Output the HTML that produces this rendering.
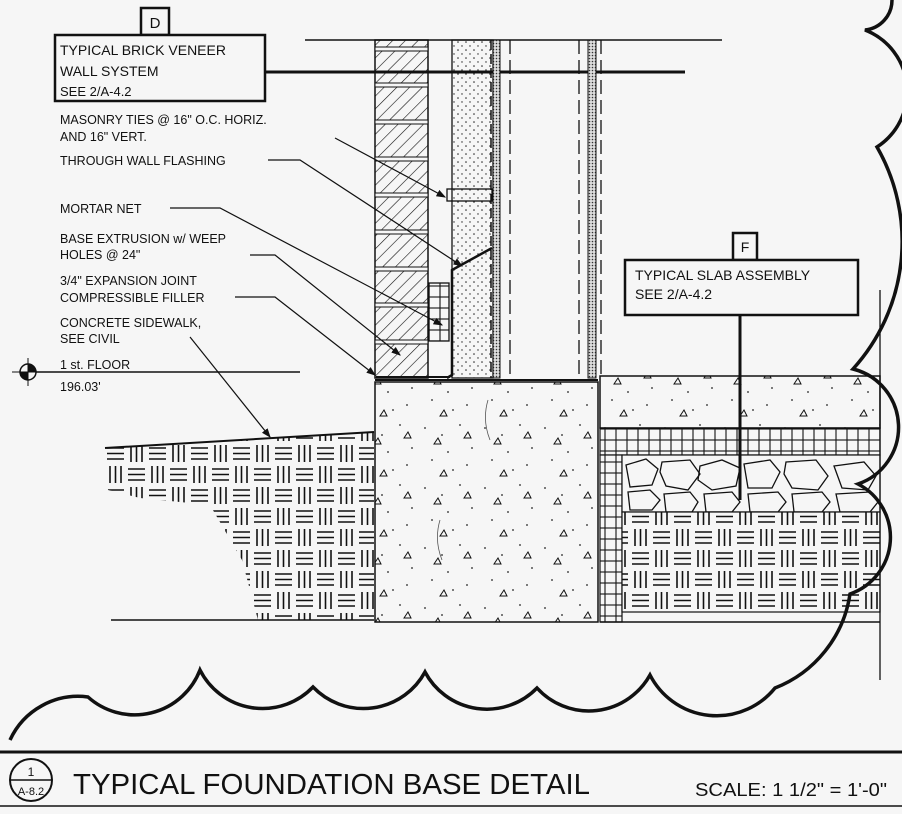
<!DOCTYPE html>
<html><head><meta charset="utf-8"><style>
html,body{margin:0;padding:0;background:#f6f6f6;}
svg{display:block;}
text{font-family:"Liberation Sans",Arial,sans-serif;fill:#111;}
</style></head><body>
<svg width="902" height="814" viewBox="0 0 902 814" xmlns="http://www.w3.org/2000/svg">
<defs>
<pattern id="hatch" width="9" height="9" patternUnits="userSpaceOnUse" patternTransform="rotate(45)">
<line x1="0" y1="0" x2="0" y2="9" stroke="#111" stroke-width="1.2"/></pattern>
<pattern id="dots" width="8" height="8" patternUnits="userSpaceOnUse">
<circle cx="2" cy="2" r="0.8" fill="#222"/><circle cx="6" cy="6" r="0.7" fill="#222"/></pattern>
<pattern id="fine" width="3" height="3" patternUnits="userSpaceOnUse">
<rect width="3" height="3" fill="#ddd"/><circle cx="1.5" cy="1.5" r="0.8" fill="#333"/></pattern>
<pattern id="grid" width="11" height="11" patternUnits="userSpaceOnUse">
<rect width="11" height="11" fill="#f6f6f6" stroke="#111" stroke-width="1.1"/></pattern>
<pattern id="conc" width="60" height="60" patternUnits="userSpaceOnUse">
<circle cx="5" cy="8" r="0.9" fill="#222"/><circle cx="22" cy="15" r="0.9" fill="#222"/><circle cx="40" cy="5" r="0.9" fill="#222"/>
<circle cx="52" cy="28" r="0.9" fill="#222"/><circle cx="12" cy="40" r="0.9" fill="#222"/><circle cx="33" cy="50" r="0.9" fill="#222"/>
<circle cx="47" cy="45" r="0.9" fill="#222"/><circle cx="28" cy="32" r="0.9" fill="#222"/>
<path d="M14 24 l4 -6 l3 6 z M44 18 l4 -6 l3 6 z M20 56 l4 -6 l3 6 z" fill="none" stroke="#111" stroke-width="1"/></pattern>
<pattern id="earth" width="42" height="42" patternUnits="userSpaceOnUse" x="0" y="2">
<rect width="42" height="42" fill="#f6f6f6"/>
<g stroke="#111" stroke-width="1.6">
<line x1="2" y1="5" x2="19" y2="5"/><line x1="2" y1="10.5" x2="19" y2="10.5"/><line x1="2" y1="16" x2="19" y2="16"/>
<line x1="26" y1="2" x2="26" y2="19"/><line x1="31.5" y1="2" x2="31.5" y2="19"/><line x1="37" y1="2" x2="37" y2="19"/>
<line x1="5" y1="23" x2="5" y2="40"/><line x1="10.5" y1="23" x2="10.5" y2="40"/><line x1="16" y1="23" x2="16" y2="40"/>
<line x1="23" y1="26" x2="40" y2="26"/><line x1="23" y1="31.5" x2="40" y2="31.5"/><line x1="23" y1="37" x2="40" y2="37"/>
</g></pattern>
<marker id="ar" markerWidth="8" markerHeight="6" refX="7" refY="3" orient="auto"><path d="M0 0 L8 3 L0 6 z" fill="#111"/></marker>
</defs>

<line x1="305" y1="40" x2="722" y2="40" stroke="#111" stroke-width="1.5"/>
<line x1="265" y1="72" x2="685" y2="72" stroke="#111" stroke-width="3"/>

<rect x="375" y="40" width="53" height="338" fill="url(#hatch)" stroke="#111" stroke-width="1.5"/>
<g stroke="#111" stroke-width="1" fill="#f6f6f6">
<rect x="375" y="47" width="53" height="4"/><rect x="375" y="83" width="53" height="4"/><rect x="375" y="120" width="53" height="4"/>
<rect x="375" y="157" width="53" height="4"/><rect x="375" y="193" width="53" height="4"/><rect x="375" y="230" width="53" height="4"/>
<rect x="375" y="267" width="53" height="4"/><rect x="375" y="303" width="53" height="4"/><rect x="375" y="340" width="53" height="4"/>
</g>
<rect x="429" y="283" width="20" height="58" fill="url(#grid)" stroke="#111" stroke-width="1.3"/>
<path d="M452 40 L493 40 L493 378 L452 378 L452 262 Z" fill="url(#dots)" stroke="#111" stroke-width="1.3"/>
<path d="M447 378 L452 375 L452 270 L492 248" fill="none" stroke="#111" stroke-width="2.5"/>
<path d="M376 377 L450 377" stroke="#111" stroke-width="2"/>
<rect x="447" y="189" width="45" height="12" fill="none" stroke="#111" stroke-width="1.3"/>
<rect x="493" y="40" width="7" height="338" fill="url(#fine)" stroke="#111"/>
<line x1="491" y1="40" x2="491" y2="378" stroke="#111" stroke-width="1.5" stroke-dasharray="10 4"/>
<line x1="510" y1="40" x2="510" y2="378" stroke="#111" stroke-width="1.3" stroke-dasharray="14 6"/>
<line x1="579" y1="40" x2="579" y2="378" stroke="#111" stroke-width="1.3" stroke-dasharray="14 6"/>
<rect x="588" y="40" width="8" height="338" fill="url(#fine)" stroke="#111"/>
<line x1="601" y1="40" x2="601" y2="378" stroke="#111" stroke-width="1.3" stroke-dasharray="14 6"/>
<line x1="375" y1="380" x2="598" y2="380" stroke="#111" stroke-width="2"/>

<rect x="375" y="382" width="223" height="240" fill="url(#conc)" stroke="#111" stroke-width="1.5"/>
<path d="M488 400 q-6 20 2 40 M440 520 q-6 20 2 40" fill="none" stroke="#555" stroke-width="0.8"/>

<rect x="600" y="376" width="280" height="52" fill="url(#conc)" stroke="#111" stroke-width="1.5"/>
<rect x="600" y="428" width="280" height="27" fill="url(#grid)" stroke="#111" stroke-width="1.2"/>
<rect x="600" y="455" width="22" height="167" fill="url(#grid)" stroke="#111" stroke-width="1.2"/>
<rect x="622" y="455" width="258" height="57" fill="#f6f6f6" stroke="#111" stroke-width="1.2"/>
<g fill="none" stroke="#111" stroke-width="1.3">
<path d="M626 465 l20 -6 l12 10 l-6 16 l-22 2 z"/><path d="M662 462 l28 -2 l10 14 l-12 16 l-22 -4 l-6 -14 z"/>
<path d="M700 466 l22 -6 l18 8 l-4 18 l-24 4 l-14 -10 z"/><path d="M744 464 l26 -4 l10 12 l-8 16 l-24 0 z"/>
<path d="M786 462 l30 -2 l12 16 l-10 14 l-26 -2 l-8 -14 z"/><path d="M834 466 l30 -4 l12 14 l-8 14 l-26 -2 z"/>
<path d="M628 492 l22 -2 l10 10 l-8 10 l-22 0 z"/><path d="M664 494 l26 -2 l8 10 l-6 10 l-26 0 z"/>
<path d="M704 494 l28 -2 l8 10 l-8 10 l-26 0 z"/><path d="M748 494 l30 -2 l8 10 l-8 10 l-28 0 z"/>
<path d="M792 494 l30 -2 l8 10 l-8 10 l-28 0 z"/><path d="M836 494 l34 -2 l8 10 l-8 10 l-30 0 z"/>
</g>
<rect x="622" y="512" width="258" height="100" fill="url(#earth)" stroke="#111" stroke-width="1.2"/>
<line x1="600" y1="622" x2="880" y2="622" stroke="#111" stroke-width="1.5"/>
<line x1="880" y1="290" x2="880" y2="680" stroke="#111" stroke-width="1.3"/>

<path d="M105 448 L374 432 L374 620 L258 620 L242 560 L210 505 L140 498 L108 490 Z" fill="url(#earth)" stroke="none"/>
<line x1="105" y1="448" x2="374" y2="432" stroke="#111" stroke-width="2"/>
<line x1="111" y1="620" x2="374" y2="620" stroke="#111" stroke-width="1.5"/>

<line x1="740" y1="315" x2="740" y2="500" stroke="#111" stroke-width="3"/>

<path d="M10 740 A75 75 0 0 1 88 697 A70 70 0 0 0 200 670 A70 70 0 0 0 313 687 A70 70 0 0 0 425 672 A70 70 0 0 0 537 688 A70 70 0 0 0 650 675 A75 75 0 0 0 775 688 A120 120 0 0 0 850 594 A60 60 0 0 0 858 484 A60 60 0 0 0 853 369 A190 190 0 0 0 877 147 A66 66 0 0 0 865 30 A30 30 0 0 0 892 0" fill="none" stroke="#111" stroke-width="3.5"/>

<rect x="141" y="8" width="28" height="27" fill="#f6f6f6" stroke="#111" stroke-width="2.5"/>
<text x="155" y="28" font-size="15" text-anchor="middle">D</text>
<rect x="55" y="35" width="210" height="66" fill="#f6f6f6" stroke="#111" stroke-width="2.5"/>
<line x1="265" y1="72" x2="300" y2="72" stroke="#111" stroke-width="3"/>
<text x="60" y="55" font-size="14">TYPICAL BRICK VENEER</text>
<text x="60" y="76" font-size="14">WALL SYSTEM</text>
<text x="60" y="96" font-size="13">SEE 2/A-4.2</text>

<rect x="733" y="233" width="24" height="27" fill="#f6f6f6" stroke="#111" stroke-width="2.5"/>
<text x="745" y="252" font-size="14" text-anchor="middle">F</text>
<rect x="625" y="260" width="233" height="55" fill="#f6f6f6" stroke="#111" stroke-width="2.5"/>
<text x="635" y="280" font-size="14">TYPICAL SLAB ASSEMBLY</text>
<text x="635" y="299" font-size="14">SEE 2/A-4.2</text>

<g font-size="12.5">
<text x="60" y="124">MASONRY TIES @ 16" O.C. HORIZ.</text>
<text x="60" y="141">AND 16" VERT.</text>
<text x="60" y="165">THROUGH WALL FLASHING</text>
<text x="60" y="213">MORTAR NET</text>
<text x="60" y="243">BASE EXTRUSION w/ WEEP</text>
<text x="60" y="259">HOLES @ 24"</text>
<text x="60" y="285">3/4" EXPANSION JOINT</text>
<text x="60" y="302">COMPRESSIBLE FILLER</text>
<text x="60" y="327">CONCRETE SIDEWALK,</text>
<text x="60" y="343">SEE CIVIL</text>
<text x="60" y="369">1 st. FLOOR</text>
<text x="60" y="391">196.03'</text>
</g>
<g stroke="#111" stroke-width="1.2" fill="none">
<path d="M335 138 L445 197" marker-end="url(#ar)"/>
<path d="M268 160 L300 160 L462 266" marker-end="url(#ar)"/>
<path d="M170 208 L220 208 L442 325" marker-end="url(#ar)"/>
<path d="M250 255 L275 255 L400 355" marker-end="url(#ar)"/>
<path d="M235 297 L275 297 L375 375" marker-end="url(#ar)"/>
<path d="M190 337 L270 437" marker-end="url(#ar)"/>
</g>
<line x1="28" y1="372" x2="300" y2="372" stroke="#111" stroke-width="1.5"/>
<circle cx="28" cy="372" r="8" fill="#f6f6f6" stroke="#111" stroke-width="1.5"/>
<path d="M28 364 A8 8 0 0 1 36 372 L28 372 Z M28 380 A8 8 0 0 1 20 372 L28 372 Z" fill="#111"/>
<line x1="12" y1="372" x2="44" y2="372" stroke="#111"/>
<line x1="28" y1="358" x2="28" y2="386" stroke="#111"/>

<line x1="0" y1="752" x2="902" y2="752" stroke="#111" stroke-width="3"/>
<line x1="0" y1="806" x2="902" y2="806" stroke="#111" stroke-width="1.5"/>
<circle cx="31" cy="780" r="21" fill="#f6f6f6" stroke="#111" stroke-width="2"/>
<line x1="10" y1="780" x2="52" y2="780" stroke="#111" stroke-width="1.5"/>
<text x="31" y="776" font-size="12" text-anchor="middle">1</text>
<text x="31" y="795" font-size="11" text-anchor="middle">A-8.2</text>
<text x="73" y="794" font-size="29" textLength="517" lengthAdjust="spacingAndGlyphs">TYPICAL FOUNDATION BASE DETAIL</text>
<text x="695" y="796" font-size="18" textLength="192" lengthAdjust="spacingAndGlyphs">SCALE: 1 1/2" = 1'-0"</text>
</svg>
</body></html>
